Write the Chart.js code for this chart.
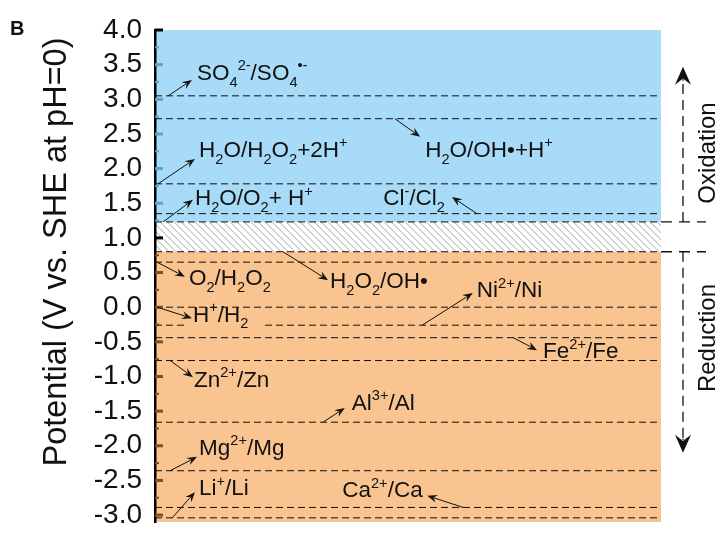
<!DOCTYPE html>
<html><head><meta charset="utf-8">
<script src="https://cdn.jsdelivr.net/npm/chart.js@4.4.0/dist/chart.umd.min.js"></script>
<style>html,body{margin:0;padding:0;background:#fff}#wrap{width:728px;height:540px;position:relative}</style>
</head><body><div id="wrap"><canvas id="c"></canvas></div>
<script>
// ---- data ----
const couples = [
  'SO_{4}^{2-}/SO_{4}^{•-}', 'H_{2}O/OH•+H^{+}', 'H_{2}O/H_{2}O_{2}+2H^{+}', 'Cl^{-}/Cl_{2}',
  'H_{2}O/O_{2}+ H^{+}', 'H_{2}O_{2}/OH•', 'O_{2}/H_{2}O_{2}', 'H^{+}/H_{2}', 'Ni^{2+}/Ni',
  'Fe^{2+}/Fe', 'Zn^{2+}/Zn', 'Al^{3+}/Al', 'Mg^{2+}/Mg', 'Ca^{2+}/Ca', 'Li^{+}/Li'
];
const potentials = [3.05, 2.72, 1.78, 1.35, 1.23, 0.80, 0.65, 0.00, -0.26, -0.44, -0.77, -1.66, -2.36, -2.89, -3.04];
const yTickLabels = ['4.0','3.5','3.0','2.5','2.0','1.5','1.0','0.5','0.0','-0.5','-1.0','-1.5','-2.0','-2.5','-3.0'];
const yMin = -3.1, yMax = 4.0;
const regionNames = ['Oxidation', 'gap', 'Reduction'];
const regionLow  = [1.23, 0.80, -3.1];
const regionHigh = [4.0, 1.23, 0.80];
const arrowTipOxidation = 3.47, arrowTipReduction = -2.10;
const axisTitle = 'Potential (V vs. SHE at pH=0)';

// ---- layout of annotations: [textX(0-1), textY(V), arrowFromX, arrowToX, arrowToY] ----
const labelLayout = [
  [.083, 3.28, .026, .073, 3.28],
  [.534, 2.17, .474, .524, 2.46],
  [.087, 2.17, .006, .079, 2.14],
  [.451, 1.475, .636, .587, 1.59],
  [.079, 1.475, .016, .075, 1.55],
  [.346, 0.28, .253, .342, 0.39],
  [.067, 0.32, .004, .059, 0.44],
  [.075, -0.21, .004, .073, -0.16],
  [.636, 0.147, .528, .628, 0.205],
  [.767, -0.733, .708, .755, -0.62],
  [.077, -1.15, .030, .075, -1.01],
  [.389, -1.48, .332, .375, -1.455],
  [.087, -2.13, .030, .083, -2.16],
  [.370, -2.74, .609, .538, -2.72],
  [.087, -2.71, .034, .079, -2.67]
];
const BLUE = '#a7dbf8', ORANGE = '#f9c48f', TXT = '#111';
const FONT = '"Liberation Sans", Arial, sans-serif';

const majorVals = yTickLabels.map(parseFloat);
const tickVals = [];
majorVals.forEach((v, i) => { tickVals.push(v); if (i < majorVals.length - 1) tickVals.push((v + majorVals[i + 1]) / 2); });
tickVals.reverse();

function rich(ctx, str, x, y, size, draw) {
  const parts = str.split(/(_\{[^}]*\}|\^\{[^}]*\})/).filter(s => s.length);
  let cx = x;
  for (const p of parts) {
    let t = p, fs = size, dy = 0;
    if (p.startsWith('_{')) { t = p.slice(2, -1); fs = size * 0.65; dy = size * 0.3; }
    else if (p.startsWith('^{')) { t = p.slice(2, -1); fs = size * 0.65; dy = -size * 0.42; }
    ctx.font = fs + 'px ' + FONT;
    if (draw) ctx.fillText(t, cx, y + dy);
    cx += ctx.measureText(t).width;
  }
  return cx - x;
}
function arrow(ctx, x1, y1, x2, y2, len, hw) {
  const a = Math.atan2(y2 - y1, x2 - x1);
  ctx.beginPath(); ctx.moveTo(x1, y1);
  ctx.lineTo(x2 - Math.cos(a) * len * 0.7, y2 - Math.sin(a) * len * 0.7); ctx.stroke();
  ctx.save(); ctx.translate(x2, y2); ctx.rotate(a);
  ctx.beginPath(); ctx.moveTo(0, 0); ctx.lineTo(-len, -hw); ctx.lineTo(-len * 0.65, 0); ctx.lineTo(-len, hw);
  ctx.closePath(); ctx.fill(); ctx.restore();
}

const bgPlugin = {
  id: 'bg',
  beforeDraw(chart) {
    const {ctx, chartArea: ca, scales: {y}} = chart;
    ctx.save();
    regionNames.forEach((n, i) => {
      const t = y.getPixelForValue(regionHigh[i]), b = y.getPixelForValue(regionLow[i]);
      if (n === 'gap') {
        ctx.save();
        ctx.beginPath(); ctx.rect(ca.left, t, ca.right - ca.left, b - t); ctx.clip();
        ctx.strokeStyle = '#8f8f8f'; ctx.lineWidth = 0.8;
        const h = b - t;
        for (let x = ca.left - h; x < ca.right + 2; x += 7) {
          ctx.beginPath(); ctx.moveTo(x, t); ctx.lineTo(x + h, b); ctx.stroke();
        }
        ctx.restore();
      } else {
        ctx.fillStyle = n === 'Oxidation' ? BLUE : ORANGE;
        ctx.fillRect(ca.left, t, ca.right - ca.left, b - t);
      }
    });
    ctx.restore();
  }
};

const overlayPlugin = {
  id: 'overlay',
  afterDatasetsDraw(chart) {
    const {ctx, chartArea: ca, scales: {x, y}} = chart;
    ctx.save();
    // inward ticks
    y.ticks.forEach(tk => {
      const v = tk.value, py = y.getPixelForValue(v);
      const major = Math.abs(v * 2 - Math.round(v * 2)) < 1e-9;
      let col = '#000';
      if (v > regionLow[0] + 1e-9 && v < yMax - 1e-9) col = '#5aa3d4';
      else if (v < regionHigh[2] - 1e-9) col = '#8a4c16';
      ctx.strokeStyle = col; ctx.lineWidth = major ? 3 : 2;
      ctx.beginPath(); ctx.moveTo(ca.left, py); ctx.lineTo(ca.left + (major ? 8 : 4), py); ctx.stroke();
    });
    // labels + arrows
    ctx.fillStyle = TXT; ctx.strokeStyle = TXT; ctx.textBaseline = 'alphabetic'; ctx.textAlign = 'left';
    couples.forEach((c, i) => {
      const L = labelLayout[i];
      const tx = x.getPixelForValue(L[0]), ty = y.getPixelForValue(L[1]);
      if (i === 7) {
        const w = rich(ctx, c, tx, ty, 22.5, false);
        ctx.fillStyle = ORANGE; ctx.fillRect(tx - 8, ty + 1, w + 22, 6); ctx.fillStyle = TXT;
      }
      rich(ctx, c, tx, ty, 22.5, true);
      ctx.lineWidth = 1;
      arrow(ctx, x.getPixelForValue(L[2]), y.getPixelForValue(potentials[i]),
            x.getPixelForValue(L[3]), y.getPixelForValue(L[4]), 10, 4);
    });
    // oxidation / reduction brackets
    const bx = ca.right + 22;
    const yOx = y.getPixelForValue(regionLow[0]), yRed = y.getPixelForValue(regionHigh[2]);
    ctx.lineWidth = 1.3;
    ctx.setLineDash([11, 7]);
    [yOx, yRed].forEach(py => { ctx.beginPath(); ctx.moveTo(ca.right, py); ctx.lineTo(ca.right + 45, py); ctx.stroke(); });
    ctx.setLineDash([10, 6]);
    const tOx = y.getPixelForValue(arrowTipOxidation), tRed = y.getPixelForValue(arrowTipReduction);
    ctx.beginPath(); ctx.moveTo(bx, yOx); ctx.lineTo(bx, tOx + 12); ctx.stroke();
    ctx.beginPath(); ctx.moveTo(bx, yRed); ctx.lineTo(bx, tRed - 12); ctx.stroke();
    ctx.setLineDash([]);
    arrow(ctx, bx, tOx + 14, bx, tOx, 18, 8);
    arrow(ctx, bx, tRed - 14, bx, tRed, 18, 8);
    ctx.font = '24px ' + FONT; ctx.textAlign = 'center'; ctx.textBaseline = 'middle';
    [['Oxidation', 2.225], ['Reduction', -0.445]].forEach(([t, v]) => {
      ctx.save(); ctx.translate(ca.right + 47, y.getPixelForValue(v)); ctx.rotate(-Math.PI / 2);
      ctx.fillText(t, 0, 0); ctx.restore();
    });
    // axis title
    ctx.font = '32.5px ' + FONT;
    ctx.save(); ctx.translate(57, (ca.top + ca.bottom) / 2 - 24); ctx.rotate(-Math.PI / 2);
    ctx.fillText(axisTitle, 0, 0); ctx.restore();
    // panel letter
    ctx.font = 'bold 20px ' + FONT; ctx.textAlign = 'left'; ctx.textBaseline = 'alphabetic';
    ctx.fillText('B', 10, 35);
    ctx.restore();
  }
};

const datasets = potentials.map((v, i) => ({
  label: couples[i], data: [{x: 0, y: v}, {x: 1, y: v}],
  borderColor: '#111', borderWidth: 1, borderDash: [7, 4], pointRadius: 0, fill: false, tension: 0
}));

new Chart(document.getElementById('c'), {
  type: 'line',
  data: {datasets},
  options: {
    responsive: true, maintainAspectRatio: false, animation: false,
    layout: {padding: {top: 30, right: 67, bottom: 18, left: 0}},
    plugins: {legend: {display: false}, tooltip: {enabled: false}},
    scales: {
      x: {type: 'linear', min: 0, max: 1, display: false},
      y: {
        type: 'linear', min: yMin, max: yMax,
        afterFit(s) { s.width = 155; s.paddingTop = 0; s.paddingBottom = 0; },
        afterBuildTicks(s) { s.ticks = tickVals.map(v => ({value: v})); },
        ticks: {
          autoSkip: false, padding: 13, color: TXT,
          font: {family: FONT, size: 28},
          callback(v) {
            const i = majorVals.findIndex(m => Math.abs(m - v) < 1e-9);
            return i >= 0 ? yTickLabels[i] : '';
          }
        },
        grid: {display: false, drawTicks: false},
        border: {display: true, color: '#000', width: 2.5}
      }
    }
  },
  plugins: [bgPlugin, overlayPlugin]
});
</script></body></html>
